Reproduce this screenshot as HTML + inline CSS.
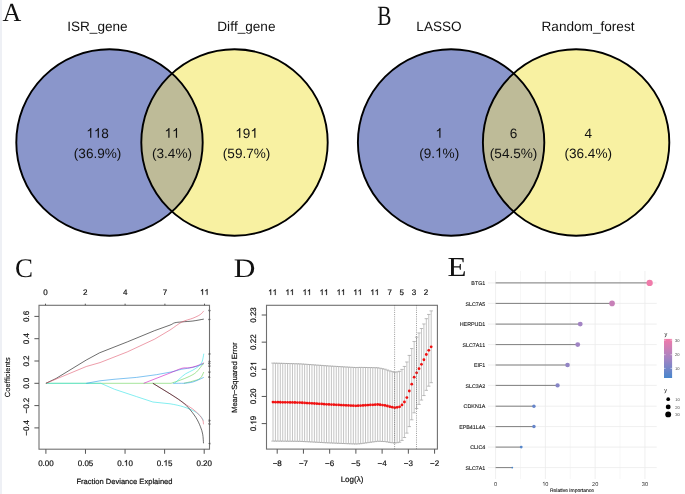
<!DOCTYPE html>
<html><head><meta charset="utf-8"><style>
html,body{margin:0;padding:0;background:#fff;}
body{width:685px;height:494px;overflow:hidden;position:relative;font-family:"Liberation Sans",sans-serif;}
svg{display:block;position:absolute;left:0;top:0;} .rv{position:absolute;font-family:'Liberation Sans',sans-serif;font-size:7.6px;line-height:8px;white-space:nowrap;transform:rotate(-90deg);transform-origin:0 0;will-change:transform;color:#111;} text{text-rendering:geometricPrecision;font-variant-ligatures:none;font-kerning:none;}
</style></head><body>
<svg style="will-change:transform" width="685" height="494" viewBox="0 0 685 494">
<rect width="685" height="494" fill="#FFFFFF"/>
<rect x="0" y="0" width="2" height="494" fill="#EEF0F5"/>
<circle cx="109.5" cy="142.5" r="93.2" fill="#8A96CB"/>
<circle cx="234.5" cy="142.5" r="93.2" fill="#F8F1A2"/>
<clipPath id="cp0"><circle cx="109.5" cy="142.5" r="93.2"/></clipPath>
<circle cx="234.5" cy="142.5" r="93.2" fill="#BEBB98" clip-path="url(#cp0)"/>
<circle cx="109.5" cy="142.5" r="93.2" fill="none" stroke="#000" stroke-width="1.9"/>
<circle cx="234.5" cy="142.5" r="93.2" fill="none" stroke="#000" stroke-width="1.9"/>
<text x="97.4" y="31" font-family="Liberation Sans, sans-serif" font-size="13.6" text-anchor="middle" fill="#111">ISR_gene</text>
<text x="246.4" y="31" font-family="Liberation Sans, sans-serif" font-size="13.6" text-anchor="middle" fill="#111">Diff_gene</text>
<g transform="translate(97.60,137.80)"><path transform="translate(-11.34,0) scale(13.6,-13.6)" d="M0.3726,0 L0.2847,0 L0.2847,0.5601 Q0.2529,0.5298 0.2026,0.5 Q0.1523,0.4702 0.1089,0.4541 L0.1089,0.5391 Q0.1831,0.5737 0.23095,0.61645 Q0.2788,0.6592 0.3125,0.7158 L0.3726,0.7158 Z" fill="#111"/><path transform="translate(-3.78,0) scale(13.6,-13.6)" d="M0.3726,0 L0.2847,0 L0.2847,0.5601 Q0.2529,0.5298 0.2026,0.5 Q0.1523,0.4702 0.1089,0.4541 L0.1089,0.5391 Q0.1831,0.5737 0.23095,0.61645 Q0.2788,0.6592 0.3125,0.7158 L0.3726,0.7158 Z" fill="#111"/><text x="3.78" y="0" font-family="Liberation Sans, sans-serif" font-size="13.6" fill="#111" style="font-kerning:none">8</text></g>
<g transform="translate(97.60,157.60)"><text x="-23.81" y="0" font-family="Liberation Sans, sans-serif" font-size="13.6" fill="#111" style="font-kerning:none">(36.9%)</text></g>
<g transform="translate(172.00,137.80)"><path transform="translate(-7.56,0) scale(13.6,-13.6)" d="M0.3726,0 L0.2847,0 L0.2847,0.5601 Q0.2529,0.5298 0.2026,0.5 Q0.1523,0.4702 0.1089,0.4541 L0.1089,0.5391 Q0.1831,0.5737 0.23095,0.61645 Q0.2788,0.6592 0.3125,0.7158 L0.3726,0.7158 Z" fill="#111"/><path transform="translate(0.00,0) scale(13.6,-13.6)" d="M0.3726,0 L0.2847,0 L0.2847,0.5601 Q0.2529,0.5298 0.2026,0.5 Q0.1523,0.4702 0.1089,0.4541 L0.1089,0.5391 Q0.1831,0.5737 0.23095,0.61645 Q0.2788,0.6592 0.3125,0.7158 L0.3726,0.7158 Z" fill="#111"/></g>
<g transform="translate(172.00,157.60)"><text x="-20.03" y="0" font-family="Liberation Sans, sans-serif" font-size="13.6" fill="#111" style="font-kerning:none">(3.4%)</text></g>
<g transform="translate(246.60,137.80)"><path transform="translate(-11.34,0) scale(13.6,-13.6)" d="M0.3726,0 L0.2847,0 L0.2847,0.5601 Q0.2529,0.5298 0.2026,0.5 Q0.1523,0.4702 0.1089,0.4541 L0.1089,0.5391 Q0.1831,0.5737 0.23095,0.61645 Q0.2788,0.6592 0.3125,0.7158 L0.3726,0.7158 Z" fill="#111"/><text x="-3.78" y="0" font-family="Liberation Sans, sans-serif" font-size="13.6" fill="#111" style="font-kerning:none">9</text><path transform="translate(3.78,0) scale(13.6,-13.6)" d="M0.3726,0 L0.2847,0 L0.2847,0.5601 Q0.2529,0.5298 0.2026,0.5 Q0.1523,0.4702 0.1089,0.4541 L0.1089,0.5391 Q0.1831,0.5737 0.23095,0.61645 Q0.2788,0.6592 0.3125,0.7158 L0.3726,0.7158 Z" fill="#111"/></g>
<g transform="translate(246.60,157.60)"><text x="-23.81" y="0" font-family="Liberation Sans, sans-serif" font-size="13.6" fill="#111" style="font-kerning:none">(59.7%)</text></g>
<circle cx="451.1" cy="142.5" r="93.2" fill="#8A96CB"/>
<circle cx="576.1" cy="142.5" r="93.2" fill="#F8F1A2"/>
<clipPath id="cp341.6"><circle cx="451.1" cy="142.5" r="93.2"/></clipPath>
<circle cx="576.1" cy="142.5" r="93.2" fill="#BEBB98" clip-path="url(#cp341.6)"/>
<circle cx="451.1" cy="142.5" r="93.2" fill="none" stroke="#000" stroke-width="1.9"/>
<circle cx="576.1" cy="142.5" r="93.2" fill="none" stroke="#000" stroke-width="1.9"/>
<text x="439.0" y="31" font-family="Liberation Sans, sans-serif" font-size="13.6" text-anchor="middle" fill="#111">LASSO</text>
<text x="588.0" y="31" font-family="Liberation Sans, sans-serif" font-size="13.6" text-anchor="middle" fill="#111">Random_forest</text>
<g transform="translate(439.20,137.80)"><path transform="translate(-3.78,0) scale(13.6,-13.6)" d="M0.3726,0 L0.2847,0 L0.2847,0.5601 Q0.2529,0.5298 0.2026,0.5 Q0.1523,0.4702 0.1089,0.4541 L0.1089,0.5391 Q0.1831,0.5737 0.23095,0.61645 Q0.2788,0.6592 0.3125,0.7158 L0.3726,0.7158 Z" fill="#111"/></g>
<g transform="translate(439.20,157.60)"><text x="-20.03" y="0" font-family="Liberation Sans, sans-serif" font-size="13.6" fill="#111" style="font-kerning:none">(9.</text><path transform="translate(-4.15,0) scale(13.6,-13.6)" d="M0.3726,0 L0.2847,0 L0.2847,0.5601 Q0.2529,0.5298 0.2026,0.5 Q0.1523,0.4702 0.1089,0.4541 L0.1089,0.5391 Q0.1831,0.5737 0.23095,0.61645 Q0.2788,0.6592 0.3125,0.7158 L0.3726,0.7158 Z" fill="#111"/><text x="3.41" y="0" font-family="Liberation Sans, sans-serif" font-size="13.6" fill="#111" style="font-kerning:none">%)</text></g>
<g transform="translate(513.60,137.80)"><text x="-3.78" y="0" font-family="Liberation Sans, sans-serif" font-size="13.6" fill="#111" style="font-kerning:none">6</text></g>
<g transform="translate(513.60,157.60)"><text x="-23.81" y="0" font-family="Liberation Sans, sans-serif" font-size="13.6" fill="#111" style="font-kerning:none">(54.5%)</text></g>
<g transform="translate(588.20,137.80)"><text x="-3.78" y="0" font-family="Liberation Sans, sans-serif" font-size="13.6" fill="#111" style="font-kerning:none">4</text></g>
<g transform="translate(588.20,157.60)"><text x="-23.81" y="0" font-family="Liberation Sans, sans-serif" font-size="13.6" fill="#111" style="font-kerning:none">(36.4%)</text></g>
<text transform="translate(2.5,20.9) scale(1.0,1)" font-family="Liberation Serif, serif" font-size="26" fill="#111">A</text>
<text transform="translate(377.3,25.0) scale(0.76,1)" font-family="Liberation Serif, serif" font-size="28" fill="#111">B</text>
<text transform="translate(15.0,276.9) scale(1.0,1)" font-family="Liberation Serif, serif" font-size="27" fill="#111">C</text>
<text transform="translate(233.8,276.6) scale(1.12,1)" font-family="Liberation Serif, serif" font-size="26.8" fill="#111">D</text>
<text transform="translate(447.5,276.4) scale(1.13,1)" font-family="Liberation Serif, serif" font-size="27.5" fill="#111">E</text>
<rect x="39.0" y="305.3" width="170.5" height="143.89999999999998" fill="none" stroke="#707070" stroke-width="1.1"/>
<line x1="45.90" y1="449.2" x2="45.90" y2="453.8" stroke="#555" stroke-width="1"/>
<g transform="translate(45.90,465.80)"><text x="-7.78" y="0" font-family="Liberation Sans, sans-serif" font-size="8" fill="#111" stroke="#111" stroke-width="0.2" style="font-kerning:none">0.00</text></g>
<line x1="85.47" y1="449.2" x2="85.47" y2="453.8" stroke="#555" stroke-width="1"/>
<g transform="translate(85.47,465.80)"><text x="-7.78" y="0" font-family="Liberation Sans, sans-serif" font-size="8" fill="#111" stroke="#111" stroke-width="0.2" style="font-kerning:none">0.05</text></g>
<line x1="125.05" y1="449.2" x2="125.05" y2="453.8" stroke="#555" stroke-width="1"/>
<g transform="translate(125.05,465.80)"><text x="-7.78" y="0" font-family="Liberation Sans, sans-serif" font-size="8" fill="#111" stroke="#111" stroke-width="0.2" style="font-kerning:none">0.</text><path transform="translate(-1.11,0) scale(8,-8)" d="M0.3726,0 L0.2847,0 L0.2847,0.5601 Q0.2529,0.5298 0.2026,0.5 Q0.1523,0.4702 0.1089,0.4541 L0.1089,0.5391 Q0.1831,0.5737 0.23095,0.61645 Q0.2788,0.6592 0.3125,0.7158 L0.3726,0.7158 Z" fill="#111" stroke="#111" stroke-width="0.025"/><text x="3.34" y="0" font-family="Liberation Sans, sans-serif" font-size="8" fill="#111" stroke="#111" stroke-width="0.2" style="font-kerning:none">0</text></g>
<line x1="164.62" y1="449.2" x2="164.62" y2="453.8" stroke="#555" stroke-width="1"/>
<g transform="translate(164.62,465.80)"><text x="-7.78" y="0" font-family="Liberation Sans, sans-serif" font-size="8" fill="#111" stroke="#111" stroke-width="0.2" style="font-kerning:none">0.</text><path transform="translate(-1.11,0) scale(8,-8)" d="M0.3726,0 L0.2847,0 L0.2847,0.5601 Q0.2529,0.5298 0.2026,0.5 Q0.1523,0.4702 0.1089,0.4541 L0.1089,0.5391 Q0.1831,0.5737 0.23095,0.61645 Q0.2788,0.6592 0.3125,0.7158 L0.3726,0.7158 Z" fill="#111" stroke="#111" stroke-width="0.025"/><text x="3.34" y="0" font-family="Liberation Sans, sans-serif" font-size="8" fill="#111" stroke="#111" stroke-width="0.2" style="font-kerning:none">5</text></g>
<line x1="204.20" y1="449.2" x2="204.20" y2="453.8" stroke="#555" stroke-width="1"/>
<g transform="translate(204.20,465.80)"><text x="-7.78" y="0" font-family="Liberation Sans, sans-serif" font-size="8" fill="#111" stroke="#111" stroke-width="0.2" style="font-kerning:none">0.20</text></g>
<line x1="34.4" y1="316.40" x2="39.0" y2="316.40" stroke="#555" stroke-width="1"/>
<g transform="translate(29.40,316.40) rotate(-90)"><text x="-5.56" y="0" font-family="Liberation Sans, sans-serif" font-size="8" fill="#111" stroke="#111" stroke-width="0.2" style="font-kerning:none">0.6</text></g>
<line x1="34.4" y1="338.70" x2="39.0" y2="338.70" stroke="#555" stroke-width="1"/>
<g transform="translate(29.40,338.70) rotate(-90)"><text x="-5.56" y="0" font-family="Liberation Sans, sans-serif" font-size="8" fill="#111" stroke="#111" stroke-width="0.2" style="font-kerning:none">0.4</text></g>
<line x1="34.4" y1="361.00" x2="39.0" y2="361.00" stroke="#555" stroke-width="1"/>
<g transform="translate(29.40,361.00) rotate(-90)"><text x="-5.56" y="0" font-family="Liberation Sans, sans-serif" font-size="8" fill="#111" stroke="#111" stroke-width="0.2" style="font-kerning:none">0.2</text></g>
<line x1="34.4" y1="383.30" x2="39.0" y2="383.30" stroke="#555" stroke-width="1"/>
<g transform="translate(29.40,383.30) rotate(-90)"><text x="-5.56" y="0" font-family="Liberation Sans, sans-serif" font-size="8" fill="#111" stroke="#111" stroke-width="0.2" style="font-kerning:none">0.0</text></g>
<line x1="34.4" y1="405.60" x2="39.0" y2="405.60" stroke="#555" stroke-width="1"/>
<g transform="translate(29.40,405.60) rotate(-90)"><text x="-7.90" y="0" font-family="Liberation Sans, sans-serif" font-size="8" fill="#111" stroke="#111" stroke-width="0.2" style="font-kerning:none">−0.2</text></g>
<line x1="34.4" y1="427.90" x2="39.0" y2="427.90" stroke="#555" stroke-width="1"/>
<g transform="translate(29.40,427.90) rotate(-90)"><text x="-7.90" y="0" font-family="Liberation Sans, sans-serif" font-size="8" fill="#111" stroke="#111" stroke-width="0.2" style="font-kerning:none">−0.4</text></g>
<line x1="45.5" y1="305.3" x2="45.5" y2="303.7" stroke="#555" stroke-width="1"/>
<g transform="translate(45.50,294.80)"><text x="-2.22" y="0" font-family="Liberation Sans, sans-serif" font-size="8" fill="#111" stroke="#111" stroke-width="0.2" style="font-kerning:none">0</text></g>
<line x1="85.3" y1="305.3" x2="85.3" y2="303.7" stroke="#555" stroke-width="1"/>
<g transform="translate(85.30,294.80)"><text x="-2.22" y="0" font-family="Liberation Sans, sans-serif" font-size="8" fill="#111" stroke="#111" stroke-width="0.2" style="font-kerning:none">2</text></g>
<line x1="125.1" y1="305.3" x2="125.1" y2="303.7" stroke="#555" stroke-width="1"/>
<g transform="translate(125.10,294.80)"><text x="-2.22" y="0" font-family="Liberation Sans, sans-serif" font-size="8" fill="#111" stroke="#111" stroke-width="0.2" style="font-kerning:none">4</text></g>
<line x1="164.9" y1="305.3" x2="164.9" y2="303.7" stroke="#555" stroke-width="1"/>
<g transform="translate(164.90,294.80)"><text x="-2.22" y="0" font-family="Liberation Sans, sans-serif" font-size="8" fill="#111" stroke="#111" stroke-width="0.2" style="font-kerning:none">7</text></g>
<line x1="204.5" y1="305.3" x2="204.5" y2="303.7" stroke="#555" stroke-width="1"/>
<g transform="translate(204.50,294.80)"><path transform="translate(-4.45,0) scale(8,-8)" d="M0.3726,0 L0.2847,0 L0.2847,0.5601 Q0.2529,0.5298 0.2026,0.5 Q0.1523,0.4702 0.1089,0.4541 L0.1089,0.5391 Q0.1831,0.5737 0.23095,0.61645 Q0.2788,0.6592 0.3125,0.7158 L0.3726,0.7158 Z" fill="#111" stroke="#111" stroke-width="0.025"/><path transform="translate(0.00,0) scale(8,-8)" d="M0.3726,0 L0.2847,0 L0.2847,0.5601 Q0.2529,0.5298 0.2026,0.5 Q0.1523,0.4702 0.1089,0.4541 L0.1089,0.5391 Q0.1831,0.5737 0.23095,0.61645 Q0.2788,0.6592 0.3125,0.7158 L0.3726,0.7158 Z" fill="#111" stroke="#111" stroke-width="0.025"/></g>
<text transform="translate(10.1,377.2) rotate(-90)" font-family="Liberation Sans, sans-serif" font-size="7.45" letter-spacing="0.1" text-anchor="middle" fill="#000" stroke="#000" stroke-width="0.1">Coefficients</text>
<text x="124.5" y="483.6" font-family="Liberation Sans, sans-serif" font-size="7.55" text-anchor="middle" fill="#111" stroke="#111" stroke-width="0.2">Fraction Deviance Explained</text>
<path d="M45.90,383.30 L171.00,383.30" fill="none" stroke="#61D04F" stroke-width="0.8" stroke-opacity="0.72" stroke-linejoin="round"/>
<path d="M45.90,383.30 L100.80,383.30" fill="none" stroke="#28E2E5" stroke-width="0.8" stroke-opacity="0.72" stroke-linejoin="round"/>
<path d="M172.80,383.30 C174.63,383.30 181.97,383.30 183.80,383.30" fill="none" stroke="#2297E6" stroke-width="0.8" stroke-opacity="0.72" stroke-linejoin="round"/>
<path d="M45.90,383.30 L56.00,378.50 L86.30,360.00 L99.60,352.80 L127.30,341.90 L154.70,330.60 L170.00,325.10 C173.33,323.80 172.72,323.33 174.70,322.80 C176.68,322.27 178.87,322.20 181.90,321.90 C184.93,321.60 189.25,321.47 192.90,321.00 C196.55,320.53 201.98,319.42 203.80,319.10" fill="none" stroke="#000000" stroke-width="0.8" stroke-opacity="0.72" stroke-linejoin="round"/>
<path d="M45.90,383.30 L86.30,366.50 L100.00,362.60 L127.30,351.90 L154.70,339.10 L170.00,330.00 C174.53,327.15 178.08,323.97 181.90,322.00 C185.72,320.03 189.85,319.43 192.90,318.20 C195.95,316.97 198.38,315.82 200.20,314.60 C202.02,313.38 203.20,311.52 203.80,310.90" fill="none" stroke="#DF536B" stroke-width="0.8" stroke-opacity="0.72" stroke-linejoin="round"/>
<path d="M86.30,383.30 L100.00,380.80 L114.00,379.30 L136.50,377.40 L156.40,374.70 L171.00,372.00 C175.25,371.08 178.25,369.97 181.90,369.20 C185.55,368.43 189.25,368.30 192.90,367.40 C196.55,366.50 201.98,364.40 203.80,363.80" fill="none" stroke="#2297E6" stroke-width="0.8" stroke-opacity="0.72" stroke-linejoin="round"/>
<path d="M143.70,383.30 L170.00,373.00 C176.37,370.50 178.70,369.17 181.90,368.30 C185.10,367.43 186.77,368.18 189.20,367.80 C191.63,367.42 194.07,366.82 196.50,366.00 C198.93,365.18 202.58,363.42 203.80,362.90" fill="none" stroke="#CD0BBC" stroke-width="0.8" stroke-opacity="0.72" stroke-linejoin="round"/>
<path d="M171.00,383.30 C172.52,382.78 177.07,381.33 180.10,380.20 C183.13,379.07 186.47,377.87 189.20,376.50 C191.93,375.13 194.07,374.27 196.50,372.00 C198.93,369.73 202.58,364.42 203.80,362.90" fill="none" stroke="#61D04F" stroke-width="0.8" stroke-opacity="0.72" stroke-linejoin="round"/>
<path d="M183.80,383.30 C185.32,382.93 190.17,381.93 192.90,381.10 C195.63,380.27 198.38,379.82 200.20,378.30 C202.02,376.78 203.20,373.05 203.80,372.00" fill="none" stroke="#61D04F" stroke-width="0.8" stroke-opacity="0.72" stroke-linejoin="round"/>
<path d="M183.80,383.30 C185.32,383.08 189.57,382.98 192.90,382.00 C196.23,381.02 201.98,378.17 203.80,377.40" fill="none" stroke="#2297E6" stroke-width="0.8" stroke-opacity="0.72" stroke-linejoin="round"/>
<path d="M174.70,383.30 C175.60,382.47 178.28,379.88 180.10,378.30 C181.92,376.72 183.47,375.17 185.60,373.80 C187.73,372.43 190.78,371.32 192.90,370.10 C195.02,368.88 196.78,367.85 198.30,366.50 C199.82,365.15 201.08,364.13 202.00,362.00 C202.92,359.87 203.50,355.08 203.80,353.70" fill="none" stroke="#28E2E5" stroke-width="0.8" stroke-opacity="0.72" stroke-linejoin="round"/>
<path d="M100.80,383.30 L114.60,389.30 L136.50,396.60 L152.90,402.00 L170.00,403.80 C175.13,404.62 179.63,405.63 183.70,406.90 C187.77,408.17 191.62,409.88 194.40,411.40 C197.18,412.92 198.88,414.48 200.40,416.00 C201.92,417.52 202.98,419.75 203.50,420.50" fill="none" stroke="#28E2E5" stroke-width="0.8" stroke-opacity="0.72" stroke-linejoin="round"/>
<path d="M152.90,383.30 L170.00,393.80 C175.13,397.10 179.90,400.55 183.70,403.10 C187.50,405.65 190.27,407.20 192.80,409.10 C195.33,411.00 197.25,412.72 198.90,414.50 C200.55,416.28 201.93,418.17 202.70,419.80 C203.47,421.43 203.37,423.55 203.50,424.30" fill="none" stroke="#DF536B" stroke-width="0.8" stroke-opacity="0.72" stroke-linejoin="round"/>
<path d="M152.90,383.30 L170.00,393.80 C174.63,396.72 177.65,398.50 180.70,400.80 C183.75,403.10 185.77,404.82 188.30,407.60 C190.83,410.38 193.88,414.33 195.90,417.50 C197.92,420.67 199.27,423.82 200.40,426.60 C201.53,429.38 202.18,431.42 202.70,434.20 C203.22,436.98 203.37,441.78 203.50,443.30" fill="none" stroke="#000000" stroke-width="0.8" stroke-opacity="0.72" stroke-linejoin="round"/>
<text transform="translate(208.4,310.5) rotate(90)" font-family="Liberation Sans, sans-serif" font-size="3.6" text-anchor="middle" fill="#222">2</text>
<text transform="translate(208.4,319.5) rotate(90)" font-family="Liberation Sans, sans-serif" font-size="3.6" text-anchor="middle" fill="#222">1</text>
<text transform="translate(208.4,354) rotate(90)" font-family="Liberation Sans, sans-serif" font-size="3.6" text-anchor="middle" fill="#222">5</text>
<text transform="translate(208.4,361.5) rotate(90)" font-family="Liberation Sans, sans-serif" font-size="3.6" text-anchor="middle" fill="#222">6</text>
<text transform="translate(208.4,363.5) rotate(90)" font-family="Liberation Sans, sans-serif" font-size="3.6" text-anchor="middle" fill="#222">9</text>
<text transform="translate(208.4,366) rotate(90)" font-family="Liberation Sans, sans-serif" font-size="3.6" text-anchor="middle" fill="#222">3</text>
<text transform="translate(208.4,372) rotate(90)" font-family="Liberation Sans, sans-serif" font-size="3.6" text-anchor="middle" fill="#222">3</text>
<text transform="translate(208.4,377) rotate(90)" font-family="Liberation Sans, sans-serif" font-size="3.6" text-anchor="middle" fill="#222">4</text>
<text transform="translate(208.4,420.5) rotate(90)" font-family="Liberation Sans, sans-serif" font-size="3.6" text-anchor="middle" fill="#222">8</text>
<text transform="translate(208.4,424) rotate(90)" font-family="Liberation Sans, sans-serif" font-size="3.6" text-anchor="middle" fill="#222">2</text>
<text transform="translate(208.4,443.5) rotate(90)" font-family="Liberation Sans, sans-serif" font-size="3.6" text-anchor="middle" fill="#222">7</text>
<rect x="266.5" y="305.3" width="170.89999999999998" height="143.8" fill="none" stroke="#707070" stroke-width="1.1"/>
<line x1="277.20" y1="449.1" x2="277.20" y2="453.70000000000005" stroke="#555" stroke-width="1"/>
<g transform="translate(277.20,466.30)"><text x="-4.56" y="0" font-family="Liberation Sans, sans-serif" font-size="8" fill="#111" stroke="#111" stroke-width="0.2" style="font-kerning:none">−8</text></g>
<line x1="303.43" y1="449.1" x2="303.43" y2="453.70000000000005" stroke="#555" stroke-width="1"/>
<g transform="translate(303.43,466.30)"><text x="-4.56" y="0" font-family="Liberation Sans, sans-serif" font-size="8" fill="#111" stroke="#111" stroke-width="0.2" style="font-kerning:none">−7</text></g>
<line x1="329.66" y1="449.1" x2="329.66" y2="453.70000000000005" stroke="#555" stroke-width="1"/>
<g transform="translate(329.66,466.30)"><text x="-4.56" y="0" font-family="Liberation Sans, sans-serif" font-size="8" fill="#111" stroke="#111" stroke-width="0.2" style="font-kerning:none">−6</text></g>
<line x1="355.89" y1="449.1" x2="355.89" y2="453.70000000000005" stroke="#555" stroke-width="1"/>
<g transform="translate(355.89,466.30)"><text x="-4.56" y="0" font-family="Liberation Sans, sans-serif" font-size="8" fill="#111" stroke="#111" stroke-width="0.2" style="font-kerning:none">−5</text></g>
<line x1="382.12" y1="449.1" x2="382.12" y2="453.70000000000005" stroke="#555" stroke-width="1"/>
<g transform="translate(382.12,466.30)"><text x="-4.56" y="0" font-family="Liberation Sans, sans-serif" font-size="8" fill="#111" stroke="#111" stroke-width="0.2" style="font-kerning:none">−4</text></g>
<line x1="408.35" y1="449.1" x2="408.35" y2="453.70000000000005" stroke="#555" stroke-width="1"/>
<g transform="translate(408.35,466.30)"><text x="-4.56" y="0" font-family="Liberation Sans, sans-serif" font-size="8" fill="#111" stroke="#111" stroke-width="0.2" style="font-kerning:none">−3</text></g>
<line x1="434.58" y1="449.1" x2="434.58" y2="453.70000000000005" stroke="#555" stroke-width="1"/>
<g transform="translate(434.58,466.30)"><text x="-4.56" y="0" font-family="Liberation Sans, sans-serif" font-size="8" fill="#111" stroke="#111" stroke-width="0.2" style="font-kerning:none">−2</text></g>
<line x1="261.7" y1="423.60" x2="266.5" y2="423.60" stroke="#555" stroke-width="1"/>
<g transform="translate(256.30,423.60) rotate(-90)"><text x="-7.78" y="0" font-family="Liberation Sans, sans-serif" font-size="8" fill="#111" stroke="#111" stroke-width="0.2" style="font-kerning:none">0.</text><path transform="translate(-1.11,0) scale(8,-8)" d="M0.3726,0 L0.2847,0 L0.2847,0.5601 Q0.2529,0.5298 0.2026,0.5 Q0.1523,0.4702 0.1089,0.4541 L0.1089,0.5391 Q0.1831,0.5737 0.23095,0.61645 Q0.2788,0.6592 0.3125,0.7158 L0.3726,0.7158 Z" fill="#111" stroke="#111" stroke-width="0.025"/><text x="3.34" y="0" font-family="Liberation Sans, sans-serif" font-size="8" fill="#111" stroke="#111" stroke-width="0.2" style="font-kerning:none">9</text></g>
<line x1="261.7" y1="396.45" x2="266.5" y2="396.45" stroke="#555" stroke-width="1"/>
<g transform="translate(256.30,396.45) rotate(-90)"><text x="-7.78" y="0" font-family="Liberation Sans, sans-serif" font-size="8" fill="#111" stroke="#111" stroke-width="0.2" style="font-kerning:none">0.20</text></g>
<line x1="261.7" y1="369.30" x2="266.5" y2="369.30" stroke="#555" stroke-width="1"/>
<g transform="translate(256.30,369.30) rotate(-90)"><text x="-7.78" y="0" font-family="Liberation Sans, sans-serif" font-size="8" fill="#111" stroke="#111" stroke-width="0.2" style="font-kerning:none">0.2</text><path transform="translate(3.34,0) scale(8,-8)" d="M0.3726,0 L0.2847,0 L0.2847,0.5601 Q0.2529,0.5298 0.2026,0.5 Q0.1523,0.4702 0.1089,0.4541 L0.1089,0.5391 Q0.1831,0.5737 0.23095,0.61645 Q0.2788,0.6592 0.3125,0.7158 L0.3726,0.7158 Z" fill="#111" stroke="#111" stroke-width="0.025"/></g>
<line x1="261.7" y1="342.15" x2="266.5" y2="342.15" stroke="#555" stroke-width="1"/>
<g transform="translate(256.30,342.15) rotate(-90)"><text x="-7.78" y="0" font-family="Liberation Sans, sans-serif" font-size="8" fill="#111" stroke="#111" stroke-width="0.2" style="font-kerning:none">0.22</text></g>
<line x1="261.7" y1="315.00" x2="266.5" y2="315.00" stroke="#555" stroke-width="1"/>
<g transform="translate(256.30,315.00) rotate(-90)"><text x="-7.78" y="0" font-family="Liberation Sans, sans-serif" font-size="8" fill="#111" stroke="#111" stroke-width="0.2" style="font-kerning:none">0.23</text></g>
<g transform="translate(272.60,295.00)"><path transform="translate(-4.45,0) scale(8,-8)" d="M0.3726,0 L0.2847,0 L0.2847,0.5601 Q0.2529,0.5298 0.2026,0.5 Q0.1523,0.4702 0.1089,0.4541 L0.1089,0.5391 Q0.1831,0.5737 0.23095,0.61645 Q0.2788,0.6592 0.3125,0.7158 L0.3726,0.7158 Z" fill="#111" stroke="#111" stroke-width="0.025"/><path transform="translate(0.00,0) scale(8,-8)" d="M0.3726,0 L0.2847,0 L0.2847,0.5601 Q0.2529,0.5298 0.2026,0.5 Q0.1523,0.4702 0.1089,0.4541 L0.1089,0.5391 Q0.1831,0.5737 0.23095,0.61645 Q0.2788,0.6592 0.3125,0.7158 L0.3726,0.7158 Z" fill="#111" stroke="#111" stroke-width="0.025"/></g>
<g transform="translate(289.80,295.00)"><path transform="translate(-4.45,0) scale(8,-8)" d="M0.3726,0 L0.2847,0 L0.2847,0.5601 Q0.2529,0.5298 0.2026,0.5 Q0.1523,0.4702 0.1089,0.4541 L0.1089,0.5391 Q0.1831,0.5737 0.23095,0.61645 Q0.2788,0.6592 0.3125,0.7158 L0.3726,0.7158 Z" fill="#111" stroke="#111" stroke-width="0.025"/><path transform="translate(0.00,0) scale(8,-8)" d="M0.3726,0 L0.2847,0 L0.2847,0.5601 Q0.2529,0.5298 0.2026,0.5 Q0.1523,0.4702 0.1089,0.4541 L0.1089,0.5391 Q0.1831,0.5737 0.23095,0.61645 Q0.2788,0.6592 0.3125,0.7158 L0.3726,0.7158 Z" fill="#111" stroke="#111" stroke-width="0.025"/></g>
<g transform="translate(307.00,295.00)"><path transform="translate(-4.45,0) scale(8,-8)" d="M0.3726,0 L0.2847,0 L0.2847,0.5601 Q0.2529,0.5298 0.2026,0.5 Q0.1523,0.4702 0.1089,0.4541 L0.1089,0.5391 Q0.1831,0.5737 0.23095,0.61645 Q0.2788,0.6592 0.3125,0.7158 L0.3726,0.7158 Z" fill="#111" stroke="#111" stroke-width="0.025"/><path transform="translate(0.00,0) scale(8,-8)" d="M0.3726,0 L0.2847,0 L0.2847,0.5601 Q0.2529,0.5298 0.2026,0.5 Q0.1523,0.4702 0.1089,0.4541 L0.1089,0.5391 Q0.1831,0.5737 0.23095,0.61645 Q0.2788,0.6592 0.3125,0.7158 L0.3726,0.7158 Z" fill="#111" stroke="#111" stroke-width="0.025"/></g>
<g transform="translate(324.00,295.00)"><path transform="translate(-4.45,0) scale(8,-8)" d="M0.3726,0 L0.2847,0 L0.2847,0.5601 Q0.2529,0.5298 0.2026,0.5 Q0.1523,0.4702 0.1089,0.4541 L0.1089,0.5391 Q0.1831,0.5737 0.23095,0.61645 Q0.2788,0.6592 0.3125,0.7158 L0.3726,0.7158 Z" fill="#111" stroke="#111" stroke-width="0.025"/><path transform="translate(0.00,0) scale(8,-8)" d="M0.3726,0 L0.2847,0 L0.2847,0.5601 Q0.2529,0.5298 0.2026,0.5 Q0.1523,0.4702 0.1089,0.4541 L0.1089,0.5391 Q0.1831,0.5737 0.23095,0.61645 Q0.2788,0.6592 0.3125,0.7158 L0.3726,0.7158 Z" fill="#111" stroke="#111" stroke-width="0.025"/></g>
<g transform="translate(341.00,295.00)"><path transform="translate(-4.45,0) scale(8,-8)" d="M0.3726,0 L0.2847,0 L0.2847,0.5601 Q0.2529,0.5298 0.2026,0.5 Q0.1523,0.4702 0.1089,0.4541 L0.1089,0.5391 Q0.1831,0.5737 0.23095,0.61645 Q0.2788,0.6592 0.3125,0.7158 L0.3726,0.7158 Z" fill="#111" stroke="#111" stroke-width="0.025"/><path transform="translate(0.00,0) scale(8,-8)" d="M0.3726,0 L0.2847,0 L0.2847,0.5601 Q0.2529,0.5298 0.2026,0.5 Q0.1523,0.4702 0.1089,0.4541 L0.1089,0.5391 Q0.1831,0.5737 0.23095,0.61645 Q0.2788,0.6592 0.3125,0.7158 L0.3726,0.7158 Z" fill="#111" stroke="#111" stroke-width="0.025"/></g>
<g transform="translate(357.70,295.00)"><path transform="translate(-4.45,0) scale(8,-8)" d="M0.3726,0 L0.2847,0 L0.2847,0.5601 Q0.2529,0.5298 0.2026,0.5 Q0.1523,0.4702 0.1089,0.4541 L0.1089,0.5391 Q0.1831,0.5737 0.23095,0.61645 Q0.2788,0.6592 0.3125,0.7158 L0.3726,0.7158 Z" fill="#111" stroke="#111" stroke-width="0.025"/><path transform="translate(0.00,0) scale(8,-8)" d="M0.3726,0 L0.2847,0 L0.2847,0.5601 Q0.2529,0.5298 0.2026,0.5 Q0.1523,0.4702 0.1089,0.4541 L0.1089,0.5391 Q0.1831,0.5737 0.23095,0.61645 Q0.2788,0.6592 0.3125,0.7158 L0.3726,0.7158 Z" fill="#111" stroke="#111" stroke-width="0.025"/></g>
<g transform="translate(374.70,295.00)"><path transform="translate(-4.45,0) scale(8,-8)" d="M0.3726,0 L0.2847,0 L0.2847,0.5601 Q0.2529,0.5298 0.2026,0.5 Q0.1523,0.4702 0.1089,0.4541 L0.1089,0.5391 Q0.1831,0.5737 0.23095,0.61645 Q0.2788,0.6592 0.3125,0.7158 L0.3726,0.7158 Z" fill="#111" stroke="#111" stroke-width="0.025"/><path transform="translate(0.00,0) scale(8,-8)" d="M0.3726,0 L0.2847,0 L0.2847,0.5601 Q0.2529,0.5298 0.2026,0.5 Q0.1523,0.4702 0.1089,0.4541 L0.1089,0.5391 Q0.1831,0.5737 0.23095,0.61645 Q0.2788,0.6592 0.3125,0.7158 L0.3726,0.7158 Z" fill="#111" stroke="#111" stroke-width="0.025"/></g>
<g transform="translate(389.70,295.00)"><text x="-2.22" y="0" font-family="Liberation Sans, sans-serif" font-size="8" fill="#111" stroke="#111" stroke-width="0.2" style="font-kerning:none">7</text></g>
<g transform="translate(401.80,295.00)"><text x="-2.22" y="0" font-family="Liberation Sans, sans-serif" font-size="8" fill="#111" stroke="#111" stroke-width="0.2" style="font-kerning:none">5</text></g>
<g transform="translate(414.00,295.00)"><text x="-2.22" y="0" font-family="Liberation Sans, sans-serif" font-size="8" fill="#111" stroke="#111" stroke-width="0.2" style="font-kerning:none">3</text></g>
<g transform="translate(425.90,295.00)"><text x="-2.22" y="0" font-family="Liberation Sans, sans-serif" font-size="8" fill="#111" stroke="#111" stroke-width="0.2" style="font-kerning:none">2</text></g>
<text transform="translate(237.4,377.7) rotate(-90)" font-family="Liberation Sans, sans-serif" font-size="7.5" text-anchor="middle" fill="#111" stroke="#111" stroke-width="0.2">Mean−Squared Error</text>
<text x="352" y="481.8" font-family="Liberation Sans, sans-serif" font-size="8" text-anchor="middle" fill="#111" stroke="#111" stroke-width="0.2">Log(λ)</text>
<g stroke="#B0B0B0" stroke-width="0.75">
<line x1="273.00" y1="363.10" x2="273.00" y2="441.10"/>
<line x1="275.43" y1="363.17" x2="275.43" y2="441.12"/>
<line x1="277.87" y1="363.23" x2="277.87" y2="441.15"/>
<line x1="280.30" y1="363.30" x2="280.30" y2="441.17"/>
<line x1="282.74" y1="363.37" x2="282.74" y2="441.19"/>
<line x1="285.17" y1="363.44" x2="285.17" y2="441.21"/>
<line x1="287.60" y1="363.50" x2="287.60" y2="441.24"/>
<line x1="290.04" y1="363.57" x2="290.04" y2="441.26"/>
<line x1="292.47" y1="363.64" x2="292.47" y2="441.28"/>
<line x1="294.90" y1="363.71" x2="294.90" y2="441.30"/>
<line x1="297.34" y1="363.77" x2="297.34" y2="441.33"/>
<line x1="299.77" y1="363.84" x2="299.77" y2="441.35"/>
<line x1="302.21" y1="364.01" x2="302.21" y2="441.47"/>
<line x1="304.64" y1="364.18" x2="304.64" y2="441.60"/>
<line x1="307.07" y1="364.36" x2="307.07" y2="441.73"/>
<line x1="309.51" y1="364.54" x2="309.51" y2="441.87"/>
<line x1="311.94" y1="364.71" x2="311.94" y2="442.00"/>
<line x1="314.38" y1="364.89" x2="314.38" y2="442.13"/>
<line x1="316.81" y1="365.07" x2="316.81" y2="442.26"/>
<line x1="319.24" y1="365.24" x2="319.24" y2="442.39"/>
<line x1="321.68" y1="365.42" x2="321.68" y2="442.53"/>
<line x1="324.11" y1="365.60" x2="324.11" y2="442.66"/>
<line x1="326.54" y1="365.77" x2="326.54" y2="442.79"/>
<line x1="328.98" y1="365.95" x2="328.98" y2="442.92"/>
<line x1="331.41" y1="366.11" x2="331.41" y2="443.03"/>
<line x1="333.85" y1="366.25" x2="333.85" y2="443.13"/>
<line x1="336.28" y1="366.40" x2="336.28" y2="443.23"/>
<line x1="338.71" y1="366.54" x2="338.71" y2="443.33"/>
<line x1="341.15" y1="366.68" x2="341.15" y2="443.43"/>
<line x1="343.58" y1="366.83" x2="343.58" y2="443.53"/>
<line x1="346.02" y1="366.97" x2="346.02" y2="443.63"/>
<line x1="348.45" y1="367.12" x2="348.45" y2="443.73"/>
<line x1="350.88" y1="367.26" x2="350.88" y2="443.83"/>
<line x1="353.32" y1="367.40" x2="353.32" y2="443.93"/>
<line x1="355.75" y1="367.55" x2="355.75" y2="444.03"/>
<line x1="358.18" y1="367.45" x2="358.18" y2="443.89"/>
<line x1="360.62" y1="367.38" x2="360.62" y2="443.68"/>
<line x1="363.05" y1="367.43" x2="363.05" y2="443.34"/>
<line x1="365.49" y1="367.48" x2="365.49" y2="443.00"/>
<line x1="367.92" y1="367.54" x2="367.92" y2="442.65"/>
<line x1="370.35" y1="367.59" x2="370.35" y2="442.31"/>
<line x1="372.79" y1="367.64" x2="372.79" y2="441.97"/>
<line x1="375.22" y1="367.70" x2="375.22" y2="441.63"/>
<line x1="377.66" y1="367.75" x2="377.66" y2="441.29"/>
<line x1="380.09" y1="368.19" x2="380.09" y2="441.34"/>
<line x1="382.52" y1="368.70" x2="382.52" y2="441.46"/>
<line x1="384.96" y1="369.21" x2="384.96" y2="441.57"/>
<line x1="387.39" y1="370.04" x2="387.39" y2="442.01"/>
<line x1="389.82" y1="370.86" x2="389.82" y2="442.44"/>
<line x1="392.26" y1="371.60" x2="392.26" y2="442.77"/>
<line x1="394.69" y1="372.28" x2="394.69" y2="443.09"/>
<line x1="397.13" y1="371.84" x2="397.13" y2="442.71"/>
<line x1="399.56" y1="371.31" x2="399.56" y2="442.24"/>
<line x1="401.99" y1="369.40" x2="401.99" y2="440.41"/>
<line x1="404.43" y1="366.45" x2="404.43" y2="437.52"/>
<line x1="406.86" y1="361.99" x2="406.86" y2="433.12"/>
<line x1="409.30" y1="355.41" x2="409.30" y2="426.61"/>
<line x1="411.73" y1="348.55" x2="411.73" y2="419.81"/>
<line x1="414.16" y1="341.47" x2="414.16" y2="412.80"/>
<line x1="416.60" y1="337.16" x2="416.60" y2="408.56"/>
<line x1="419.03" y1="332.95" x2="419.03" y2="404.42"/>
<line x1="421.46" y1="328.53" x2="421.46" y2="400.07"/>
<line x1="423.90" y1="323.96" x2="423.90" y2="395.56"/>
<line x1="426.33" y1="318.66" x2="426.33" y2="390.33"/>
<line x1="428.77" y1="314.44" x2="428.77" y2="386.17"/>
<line x1="431.20" y1="310.90" x2="431.20" y2="382.70"/>
</g><g stroke="#A0A0A0" stroke-width="0.7">
<line x1="271.30" y1="363.10" x2="274.70" y2="363.10"/>
<line x1="271.30" y1="441.10" x2="274.70" y2="441.10"/>
<line x1="273.73" y1="363.17" x2="277.13" y2="363.17"/>
<line x1="273.73" y1="441.12" x2="277.13" y2="441.12"/>
<line x1="276.17" y1="363.23" x2="279.57" y2="363.23"/>
<line x1="276.17" y1="441.15" x2="279.57" y2="441.15"/>
<line x1="278.60" y1="363.30" x2="282.00" y2="363.30"/>
<line x1="278.60" y1="441.17" x2="282.00" y2="441.17"/>
<line x1="281.04" y1="363.37" x2="284.44" y2="363.37"/>
<line x1="281.04" y1="441.19" x2="284.44" y2="441.19"/>
<line x1="283.47" y1="363.44" x2="286.87" y2="363.44"/>
<line x1="283.47" y1="441.21" x2="286.87" y2="441.21"/>
<line x1="285.90" y1="363.50" x2="289.30" y2="363.50"/>
<line x1="285.90" y1="441.24" x2="289.30" y2="441.24"/>
<line x1="288.34" y1="363.57" x2="291.74" y2="363.57"/>
<line x1="288.34" y1="441.26" x2="291.74" y2="441.26"/>
<line x1="290.77" y1="363.64" x2="294.17" y2="363.64"/>
<line x1="290.77" y1="441.28" x2="294.17" y2="441.28"/>
<line x1="293.20" y1="363.71" x2="296.60" y2="363.71"/>
<line x1="293.20" y1="441.30" x2="296.60" y2="441.30"/>
<line x1="295.64" y1="363.77" x2="299.04" y2="363.77"/>
<line x1="295.64" y1="441.33" x2="299.04" y2="441.33"/>
<line x1="298.07" y1="363.84" x2="301.47" y2="363.84"/>
<line x1="298.07" y1="441.35" x2="301.47" y2="441.35"/>
<line x1="300.51" y1="364.01" x2="303.91" y2="364.01"/>
<line x1="300.51" y1="441.47" x2="303.91" y2="441.47"/>
<line x1="302.94" y1="364.18" x2="306.34" y2="364.18"/>
<line x1="302.94" y1="441.60" x2="306.34" y2="441.60"/>
<line x1="305.37" y1="364.36" x2="308.77" y2="364.36"/>
<line x1="305.37" y1="441.73" x2="308.77" y2="441.73"/>
<line x1="307.81" y1="364.54" x2="311.21" y2="364.54"/>
<line x1="307.81" y1="441.87" x2="311.21" y2="441.87"/>
<line x1="310.24" y1="364.71" x2="313.64" y2="364.71"/>
<line x1="310.24" y1="442.00" x2="313.64" y2="442.00"/>
<line x1="312.68" y1="364.89" x2="316.08" y2="364.89"/>
<line x1="312.68" y1="442.13" x2="316.08" y2="442.13"/>
<line x1="315.11" y1="365.07" x2="318.51" y2="365.07"/>
<line x1="315.11" y1="442.26" x2="318.51" y2="442.26"/>
<line x1="317.54" y1="365.24" x2="320.94" y2="365.24"/>
<line x1="317.54" y1="442.39" x2="320.94" y2="442.39"/>
<line x1="319.98" y1="365.42" x2="323.38" y2="365.42"/>
<line x1="319.98" y1="442.53" x2="323.38" y2="442.53"/>
<line x1="322.41" y1="365.60" x2="325.81" y2="365.60"/>
<line x1="322.41" y1="442.66" x2="325.81" y2="442.66"/>
<line x1="324.84" y1="365.77" x2="328.24" y2="365.77"/>
<line x1="324.84" y1="442.79" x2="328.24" y2="442.79"/>
<line x1="327.28" y1="365.95" x2="330.68" y2="365.95"/>
<line x1="327.28" y1="442.92" x2="330.68" y2="442.92"/>
<line x1="329.71" y1="366.11" x2="333.11" y2="366.11"/>
<line x1="329.71" y1="443.03" x2="333.11" y2="443.03"/>
<line x1="332.15" y1="366.25" x2="335.55" y2="366.25"/>
<line x1="332.15" y1="443.13" x2="335.55" y2="443.13"/>
<line x1="334.58" y1="366.40" x2="337.98" y2="366.40"/>
<line x1="334.58" y1="443.23" x2="337.98" y2="443.23"/>
<line x1="337.01" y1="366.54" x2="340.41" y2="366.54"/>
<line x1="337.01" y1="443.33" x2="340.41" y2="443.33"/>
<line x1="339.45" y1="366.68" x2="342.85" y2="366.68"/>
<line x1="339.45" y1="443.43" x2="342.85" y2="443.43"/>
<line x1="341.88" y1="366.83" x2="345.28" y2="366.83"/>
<line x1="341.88" y1="443.53" x2="345.28" y2="443.53"/>
<line x1="344.32" y1="366.97" x2="347.72" y2="366.97"/>
<line x1="344.32" y1="443.63" x2="347.72" y2="443.63"/>
<line x1="346.75" y1="367.12" x2="350.15" y2="367.12"/>
<line x1="346.75" y1="443.73" x2="350.15" y2="443.73"/>
<line x1="349.18" y1="367.26" x2="352.58" y2="367.26"/>
<line x1="349.18" y1="443.83" x2="352.58" y2="443.83"/>
<line x1="351.62" y1="367.40" x2="355.02" y2="367.40"/>
<line x1="351.62" y1="443.93" x2="355.02" y2="443.93"/>
<line x1="354.05" y1="367.55" x2="357.45" y2="367.55"/>
<line x1="354.05" y1="444.03" x2="357.45" y2="444.03"/>
<line x1="356.48" y1="367.45" x2="359.88" y2="367.45"/>
<line x1="356.48" y1="443.89" x2="359.88" y2="443.89"/>
<line x1="358.92" y1="367.38" x2="362.32" y2="367.38"/>
<line x1="358.92" y1="443.68" x2="362.32" y2="443.68"/>
<line x1="361.35" y1="367.43" x2="364.75" y2="367.43"/>
<line x1="361.35" y1="443.34" x2="364.75" y2="443.34"/>
<line x1="363.79" y1="367.48" x2="367.19" y2="367.48"/>
<line x1="363.79" y1="443.00" x2="367.19" y2="443.00"/>
<line x1="366.22" y1="367.54" x2="369.62" y2="367.54"/>
<line x1="366.22" y1="442.65" x2="369.62" y2="442.65"/>
<line x1="368.65" y1="367.59" x2="372.05" y2="367.59"/>
<line x1="368.65" y1="442.31" x2="372.05" y2="442.31"/>
<line x1="371.09" y1="367.64" x2="374.49" y2="367.64"/>
<line x1="371.09" y1="441.97" x2="374.49" y2="441.97"/>
<line x1="373.52" y1="367.70" x2="376.92" y2="367.70"/>
<line x1="373.52" y1="441.63" x2="376.92" y2="441.63"/>
<line x1="375.96" y1="367.75" x2="379.36" y2="367.75"/>
<line x1="375.96" y1="441.29" x2="379.36" y2="441.29"/>
<line x1="378.39" y1="368.19" x2="381.79" y2="368.19"/>
<line x1="378.39" y1="441.34" x2="381.79" y2="441.34"/>
<line x1="380.82" y1="368.70" x2="384.22" y2="368.70"/>
<line x1="380.82" y1="441.46" x2="384.22" y2="441.46"/>
<line x1="383.26" y1="369.21" x2="386.66" y2="369.21"/>
<line x1="383.26" y1="441.57" x2="386.66" y2="441.57"/>
<line x1="385.69" y1="370.04" x2="389.09" y2="370.04"/>
<line x1="385.69" y1="442.01" x2="389.09" y2="442.01"/>
<line x1="388.12" y1="370.86" x2="391.52" y2="370.86"/>
<line x1="388.12" y1="442.44" x2="391.52" y2="442.44"/>
<line x1="390.56" y1="371.60" x2="393.96" y2="371.60"/>
<line x1="390.56" y1="442.77" x2="393.96" y2="442.77"/>
<line x1="392.99" y1="372.28" x2="396.39" y2="372.28"/>
<line x1="392.99" y1="443.09" x2="396.39" y2="443.09"/>
<line x1="395.43" y1="371.84" x2="398.83" y2="371.84"/>
<line x1="395.43" y1="442.71" x2="398.83" y2="442.71"/>
<line x1="397.86" y1="371.31" x2="401.26" y2="371.31"/>
<line x1="397.86" y1="442.24" x2="401.26" y2="442.24"/>
<line x1="400.29" y1="369.40" x2="403.69" y2="369.40"/>
<line x1="400.29" y1="440.41" x2="403.69" y2="440.41"/>
<line x1="402.73" y1="366.45" x2="406.13" y2="366.45"/>
<line x1="402.73" y1="437.52" x2="406.13" y2="437.52"/>
<line x1="405.16" y1="361.99" x2="408.56" y2="361.99"/>
<line x1="405.16" y1="433.12" x2="408.56" y2="433.12"/>
<line x1="407.60" y1="355.41" x2="411.00" y2="355.41"/>
<line x1="407.60" y1="426.61" x2="411.00" y2="426.61"/>
<line x1="410.03" y1="348.55" x2="413.43" y2="348.55"/>
<line x1="410.03" y1="419.81" x2="413.43" y2="419.81"/>
<line x1="412.46" y1="341.47" x2="415.86" y2="341.47"/>
<line x1="412.46" y1="412.80" x2="415.86" y2="412.80"/>
<line x1="414.90" y1="337.16" x2="418.30" y2="337.16"/>
<line x1="414.90" y1="408.56" x2="418.30" y2="408.56"/>
<line x1="417.33" y1="332.95" x2="420.73" y2="332.95"/>
<line x1="417.33" y1="404.42" x2="420.73" y2="404.42"/>
<line x1="419.76" y1="328.53" x2="423.16" y2="328.53"/>
<line x1="419.76" y1="400.07" x2="423.16" y2="400.07"/>
<line x1="422.20" y1="323.96" x2="425.60" y2="323.96"/>
<line x1="422.20" y1="395.56" x2="425.60" y2="395.56"/>
<line x1="424.63" y1="318.66" x2="428.03" y2="318.66"/>
<line x1="424.63" y1="390.33" x2="428.03" y2="390.33"/>
<line x1="427.07" y1="314.44" x2="430.47" y2="314.44"/>
<line x1="427.07" y1="386.17" x2="430.47" y2="386.17"/>
<line x1="429.50" y1="310.90" x2="432.90" y2="310.90"/>
<line x1="429.50" y1="382.70" x2="432.90" y2="382.70"/>
</g>
<g fill="#F01010">
<circle cx="273.00" cy="402.10" r="1.4"/>
<circle cx="275.43" cy="402.15" r="1.4"/>
<circle cx="277.87" cy="402.19" r="1.4"/>
<circle cx="280.30" cy="402.24" r="1.4"/>
<circle cx="282.74" cy="402.28" r="1.4"/>
<circle cx="285.17" cy="402.33" r="1.4"/>
<circle cx="287.60" cy="402.37" r="1.4"/>
<circle cx="290.04" cy="402.42" r="1.4"/>
<circle cx="292.47" cy="402.46" r="1.4"/>
<circle cx="294.90" cy="402.51" r="1.4"/>
<circle cx="297.34" cy="402.55" r="1.4"/>
<circle cx="299.77" cy="402.60" r="1.4"/>
<circle cx="302.21" cy="402.74" r="1.4"/>
<circle cx="304.64" cy="402.89" r="1.4"/>
<circle cx="307.07" cy="403.05" r="1.4"/>
<circle cx="309.51" cy="403.20" r="1.4"/>
<circle cx="311.94" cy="403.36" r="1.4"/>
<circle cx="314.38" cy="403.51" r="1.4"/>
<circle cx="316.81" cy="403.66" r="1.4"/>
<circle cx="319.24" cy="403.82" r="1.4"/>
<circle cx="321.68" cy="403.97" r="1.4"/>
<circle cx="324.11" cy="404.13" r="1.4"/>
<circle cx="326.54" cy="404.28" r="1.4"/>
<circle cx="328.98" cy="404.44" r="1.4"/>
<circle cx="331.41" cy="404.57" r="1.4"/>
<circle cx="333.85" cy="404.69" r="1.4"/>
<circle cx="336.28" cy="404.81" r="1.4"/>
<circle cx="338.71" cy="404.94" r="1.4"/>
<circle cx="341.15" cy="405.06" r="1.4"/>
<circle cx="343.58" cy="405.18" r="1.4"/>
<circle cx="346.02" cy="405.30" r="1.4"/>
<circle cx="348.45" cy="405.42" r="1.4"/>
<circle cx="350.88" cy="405.54" r="1.4"/>
<circle cx="353.32" cy="405.67" r="1.4"/>
<circle cx="355.75" cy="405.79" r="1.4"/>
<circle cx="358.18" cy="405.67" r="1.4"/>
<circle cx="360.62" cy="405.53" r="1.4"/>
<circle cx="363.05" cy="405.38" r="1.4"/>
<circle cx="365.49" cy="405.24" r="1.4"/>
<circle cx="367.92" cy="405.10" r="1.4"/>
<circle cx="370.35" cy="404.95" r="1.4"/>
<circle cx="372.79" cy="404.81" r="1.4"/>
<circle cx="375.22" cy="404.66" r="1.4"/>
<circle cx="377.66" cy="404.52" r="1.4"/>
<circle cx="380.09" cy="404.77" r="1.4"/>
<circle cx="382.52" cy="405.08" r="1.4"/>
<circle cx="384.96" cy="405.39" r="1.4"/>
<circle cx="387.39" cy="406.02" r="1.4"/>
<circle cx="389.82" cy="406.65" r="1.4"/>
<circle cx="392.26" cy="407.18" r="1.4"/>
<circle cx="394.69" cy="407.68" r="1.4"/>
<circle cx="397.13" cy="407.28" r="1.4"/>
<circle cx="399.56" cy="406.78" r="1.4"/>
<circle cx="401.99" cy="404.90" r="1.4"/>
<circle cx="404.43" cy="401.99" r="1.4"/>
<circle cx="406.86" cy="397.55" r="1.4"/>
<circle cx="409.30" cy="391.01" r="1.4"/>
<circle cx="411.73" cy="384.18" r="1.4"/>
<circle cx="414.16" cy="377.14" r="1.4"/>
<circle cx="416.60" cy="372.86" r="1.4"/>
<circle cx="419.03" cy="368.68" r="1.4"/>
<circle cx="421.46" cy="364.30" r="1.4"/>
<circle cx="423.90" cy="359.76" r="1.4"/>
<circle cx="426.33" cy="354.50" r="1.4"/>
<circle cx="428.77" cy="350.30" r="1.4"/>
<circle cx="431.20" cy="346.80" r="1.4"/>
</g>
<line x1="394.6" y1="305.3" x2="394.6" y2="449.1" stroke="#555" stroke-width="0.6" stroke-dasharray="1,1.2"/>
<line x1="416.5" y1="305.3" x2="416.5" y2="449.1" stroke="#555" stroke-width="0.6" stroke-dasharray="1,1.2"/>
<line x1="520.49" y1="271" x2="520.49" y2="479" stroke="#F2F2F2" stroke-width="0.6"/>
<line x1="570.25" y1="271" x2="570.25" y2="479" stroke="#F2F2F2" stroke-width="0.6"/>
<line x1="620.03" y1="271" x2="620.03" y2="479" stroke="#F2F2F2" stroke-width="0.6"/>
<line x1="495.60" y1="271" x2="495.60" y2="479" stroke="#EBEBEB" stroke-width="0.8"/>
<line x1="545.37" y1="271" x2="545.37" y2="479" stroke="#EBEBEB" stroke-width="0.8"/>
<line x1="595.14" y1="271" x2="595.14" y2="479" stroke="#EBEBEB" stroke-width="0.8"/>
<line x1="644.91" y1="271" x2="644.91" y2="479" stroke="#EBEBEB" stroke-width="0.8"/>
<line x1="488" y1="282.9" x2="656.7" y2="282.9" stroke="#EBEBEB" stroke-width="0.8"/>
<line x1="488" y1="303.4" x2="656.7" y2="303.4" stroke="#EBEBEB" stroke-width="0.8"/>
<line x1="488" y1="324.1" x2="656.7" y2="324.1" stroke="#EBEBEB" stroke-width="0.8"/>
<line x1="488" y1="344.6" x2="656.7" y2="344.6" stroke="#EBEBEB" stroke-width="0.8"/>
<line x1="488" y1="365.0" x2="656.7" y2="365.0" stroke="#EBEBEB" stroke-width="0.8"/>
<line x1="488" y1="385.4" x2="656.7" y2="385.4" stroke="#EBEBEB" stroke-width="0.8"/>
<line x1="488" y1="406.2" x2="656.7" y2="406.2" stroke="#EBEBEB" stroke-width="0.8"/>
<line x1="488" y1="426.6" x2="656.7" y2="426.6" stroke="#EBEBEB" stroke-width="0.8"/>
<line x1="488" y1="447.1" x2="656.7" y2="447.1" stroke="#EBEBEB" stroke-width="0.8"/>
<line x1="488" y1="467.6" x2="656.7" y2="467.6" stroke="#EBEBEB" stroke-width="0.8"/>
<line x1="495.6" y1="282.9" x2="649.64" y2="282.9" stroke="#7F7F7F" stroke-width="1"/>
<circle cx="649.64" cy="282.9" r="3.15" fill="#F07BAA"/>
<text x="485.3" y="285.05" font-family="Liberation Sans, sans-serif" font-size="5.35" text-anchor="end" fill="#222" stroke="#222" stroke-width="0.12">BTG1</text>
<line x1="495.6" y1="303.4" x2="612.06" y2="303.4" stroke="#7F7F7F" stroke-width="1"/>
<circle cx="612.06" cy="303.4" r="2.81" fill="#C780B8"/>
<text x="485.3" y="305.55" font-family="Liberation Sans, sans-serif" font-size="5.35" text-anchor="end" fill="#222" stroke="#222" stroke-width="0.12">SLC7A5</text>
<line x1="495.6" y1="324.1" x2="580.21" y2="324.1" stroke="#7F7F7F" stroke-width="1"/>
<circle cx="580.21" cy="324.1" r="2.46" fill="#A384C4"/>
<text x="485.3" y="326.25" font-family="Liberation Sans, sans-serif" font-size="5.35" text-anchor="end" fill="#222" stroke="#222" stroke-width="0.12">HERPUD1</text>
<line x1="495.6" y1="344.6" x2="577.72" y2="344.6" stroke="#7F7F7F" stroke-width="1"/>
<circle cx="577.72" cy="344.6" r="2.43" fill="#A084C4"/>
<text x="485.3" y="346.75" font-family="Liberation Sans, sans-serif" font-size="5.35" text-anchor="end" fill="#222" stroke="#222" stroke-width="0.12">SLC7A11</text>
<line x1="495.6" y1="365.0" x2="567.52" y2="365.0" stroke="#7F7F7F" stroke-width="1"/>
<circle cx="567.52" cy="365.0" r="2.29" fill="#9384C5"/>
<text x="485.3" y="367.15" font-family="Liberation Sans, sans-serif" font-size="5.35" text-anchor="end" fill="#222" stroke="#222" stroke-width="0.12">EIF1</text>
<line x1="495.6" y1="385.4" x2="557.56" y2="385.4" stroke="#7F7F7F" stroke-width="1"/>
<circle cx="557.56" cy="385.4" r="2.15" fill="#8685C6"/>
<text x="485.3" y="387.55" font-family="Liberation Sans, sans-serif" font-size="5.35" text-anchor="end" fill="#222" stroke="#222" stroke-width="0.12">SLC3A2</text>
<line x1="495.6" y1="406.2" x2="533.92" y2="406.2" stroke="#7F7F7F" stroke-width="1"/>
<circle cx="533.92" cy="406.2" r="1.74" fill="#6785C9"/>
<text x="485.3" y="408.35" font-family="Liberation Sans, sans-serif" font-size="5.35" text-anchor="end" fill="#222" stroke="#222" stroke-width="0.12">CDKN1A</text>
<line x1="495.6" y1="426.6" x2="533.92" y2="426.6" stroke="#7F7F7F" stroke-width="1"/>
<circle cx="533.92" cy="426.6" r="1.74" fill="#6785C9"/>
<text x="485.3" y="428.75" font-family="Liberation Sans, sans-serif" font-size="5.35" text-anchor="end" fill="#222" stroke="#222" stroke-width="0.12">EPB41L4A</text>
<line x1="495.6" y1="447.1" x2="521.23" y2="447.1" stroke="#7F7F7F" stroke-width="1"/>
<circle cx="521.23" cy="447.1" r="1.41" fill="#5686CA"/>
<text x="485.3" y="449.25" font-family="Liberation Sans, sans-serif" font-size="5.35" text-anchor="end" fill="#222" stroke="#222" stroke-width="0.12">CLIC4</text>
<line x1="495.6" y1="467.6" x2="512.27" y2="467.6" stroke="#7F7F7F" stroke-width="1"/>
<circle cx="512.27" cy="467.6" r="0.90" fill="#4A86CB"/>
<text x="485.3" y="469.75" font-family="Liberation Sans, sans-serif" font-size="5.35" text-anchor="end" fill="#222" stroke="#222" stroke-width="0.12">SLC7A1</text>
<g transform="translate(495.60,485.80)"><text x="-1.56" y="0" font-family="Liberation Sans, sans-serif" font-size="5.6" fill="#333" style="font-kerning:none">0</text></g>
<g transform="translate(545.37,485.80)"><path transform="translate(-3.11,0) scale(5.6,-5.6)" d="M0.3726,0 L0.2847,0 L0.2847,0.5601 Q0.2529,0.5298 0.2026,0.5 Q0.1523,0.4702 0.1089,0.4541 L0.1089,0.5391 Q0.1831,0.5737 0.23095,0.61645 Q0.2788,0.6592 0.3125,0.7158 L0.3726,0.7158 Z" fill="#333"/><text x="0.00" y="0" font-family="Liberation Sans, sans-serif" font-size="5.6" fill="#333" style="font-kerning:none">0</text></g>
<g transform="translate(595.14,485.80)"><text x="-3.11" y="0" font-family="Liberation Sans, sans-serif" font-size="5.6" fill="#333" style="font-kerning:none">20</text></g>
<g transform="translate(644.91,485.80)"><text x="-3.11" y="0" font-family="Liberation Sans, sans-serif" font-size="5.6" fill="#333" style="font-kerning:none">30</text></g>
<text x="572" y="492.2" font-family="Liberation Sans, sans-serif" font-size="5" text-anchor="middle" fill="#111" stroke="#111" stroke-width="0.1">Relative importance</text>
<linearGradient id="lg" x1="0" y1="0" x2="0" y2="1"><stop offset="0" stop-color="#F27BAA"/><stop offset="0.5" stop-color="#A484C4"/><stop offset="1" stop-color="#4886CC"/></linearGradient>
<text x="664.4" y="335.8" font-family="Liberation Sans, sans-serif" font-size="5.6" fill="#111">y</text>
<rect x="664" y="338.9" width="8.1" height="39.1" fill="url(#lg)"/>
<line x1="664" y1="340.1" x2="665.6" y2="340.1" stroke="#fff" stroke-width="0.5"/><line x1="670.5" y1="340.1" x2="672.1" y2="340.1" stroke="#fff" stroke-width="0.5"/>
<text x="674.9" y="341.8" font-family="Liberation Sans, sans-serif" font-size="4.1" fill="#444">30</text>
<line x1="664" y1="354.7" x2="665.6" y2="354.7" stroke="#fff" stroke-width="0.5"/><line x1="670.5" y1="354.7" x2="672.1" y2="354.7" stroke="#fff" stroke-width="0.5"/>
<text x="674.9" y="356.4" font-family="Liberation Sans, sans-serif" font-size="4.1" fill="#444">20</text>
<line x1="664" y1="368.4" x2="665.6" y2="368.4" stroke="#fff" stroke-width="0.5"/><line x1="670.5" y1="368.4" x2="672.1" y2="368.4" stroke="#fff" stroke-width="0.5"/>
<text x="674.9" y="370.09999999999997" font-family="Liberation Sans, sans-serif" font-size="4.1" fill="#444">10</text>
<text x="664.2" y="391.9" font-family="Liberation Sans, sans-serif" font-size="5.6" fill="#111">y</text>
<circle cx="668.2" cy="399.2" r="1.85" fill="#000"/>
<text x="675.3" y="400.9" font-family="Liberation Sans, sans-serif" font-size="4.1" fill="#444">10</text>
<circle cx="668.2" cy="406.9" r="2.45" fill="#000"/>
<text x="675.3" y="408.59999999999997" font-family="Liberation Sans, sans-serif" font-size="4.1" fill="#444">20</text>
<circle cx="668.2" cy="414.4" r="2.95" fill="#000"/>
<text x="675.3" y="416.09999999999997" font-family="Liberation Sans, sans-serif" font-size="4.1" fill="#444">30</text>
</svg>

</body></html>
